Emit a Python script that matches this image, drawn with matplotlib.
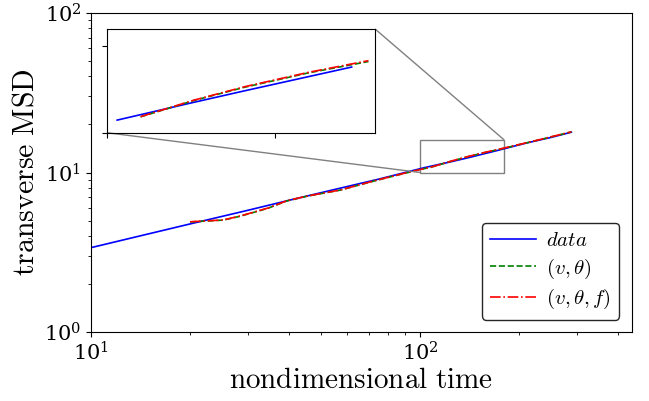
import numpy as np
import matplotlib
matplotlib.use('Agg')
import matplotlib.pyplot as plt
from mpl_toolkits.axes_grid1.inset_locator import mark_inset

plt.rcParams['mathtext.fontset'] = 'cm'
plt.rcParams['font.family'] = 'serif'

# measured transverse MSD
t_data = [10, 15, 20, 30, 40, 55, 75, 103, 125, 140, 173, 210, 250, 288]
msd_data = [3.38, 4.13, 4.76, 5.80, 6.70, 7.83, 9.10, 10.73, 11.72, 12.38, 13.80, 15.30, 16.60, 17.90]

# model curves
t_model = [20, 22.2, 25.2, 28.4, 34.5, 39.4, 45.4, 57.2, 74, 90, 110, 126, 141, 160, 178, 220, 288]
msd_vt = [4.90, 4.96, 5.03, 5.32, 5.97, 6.64, 7.11, 7.76, 8.95, 9.90, 10.92, 11.87, 12.63, 13.46, 14.12, 15.68, 17.95]
msd_vtf = [4.91, 4.97, 5.04, 5.34, 5.99, 6.66, 7.12, 7.77, 8.97, 9.92, 10.93, 11.89, 12.66, 13.49, 14.17, 15.70, 18.00]

# inset window and which points go in it
zoom_x = (100, 180)
zoom_y = (10, 16)
inset_data = (103, 173)
inset_model = (110, 178)


def plot_lines(ax, t1, m1, t2, m2a, m2b):
    ax.plot(t1, m1, '-', color='b', lw=1.2, label=r'$data$')
    ax.plot(t2, m2a, '--', color='g', lw=1.2, label=r'$(v,\theta)$')
    ax.plot(t2, m2b, '-.', color='r', lw=1.2, label=r'$(v,\theta,f)$')


fig = plt.figure(figsize=(6.49, 4.01), dpi=100)
ax = fig.add_axes([0.1402, 0.172, 0.8336, 0.7956])
plot_lines(ax, t_data, msd_data, t_model, msd_vt, msd_vtf)
ax.set_xscale('log')
ax.set_yscale('log')
ax.set_xlim(10, 440)
ax.set_ylim(1, 100)
ax.tick_params(labelsize=15)
ax.set_xlabel(r'$\mathrm{nondimensional\ time}$', fontsize=21, labelpad=0.5)
ax.set_ylabel(r'$\mathrm{transverse\ MSD}$', fontsize=21.5, labelpad=3.5)
leg = ax.legend(loc='lower right', fontsize=15, fancybox=True, framealpha=1,
                edgecolor='0.15', handlelength=2.2, handletextpad=0.5,
                labelspacing=0.3, borderaxespad=0.6)

# inset
td = np.array(t_data)
tm = np.array(t_model)
md = (td >= inset_data[0]) & (td <= inset_data[1])
mm = (tm >= inset_model[0]) & (tm <= inset_model[1])
axins = fig.add_axes([0.165, 0.669, 0.413, 0.2586])
plot_lines(axins, td[md], np.array(msd_data)[md], tm[mm],
           np.array(msd_vt)[mm], np.array(msd_vtf)[mm])
axins.set_xlim(*zoom_x)
axins.set_ylim(*zoom_y)
axins.set_xticks([100, 150])
axins.set_yticks([10, 15])
axins.set_xticklabels([])
axins.set_yticklabels([])
mark_inset(ax, axins, loc1=1, loc2=3, fc='none', ec='0.5')

fig.savefig('out.png', dpi=100)
